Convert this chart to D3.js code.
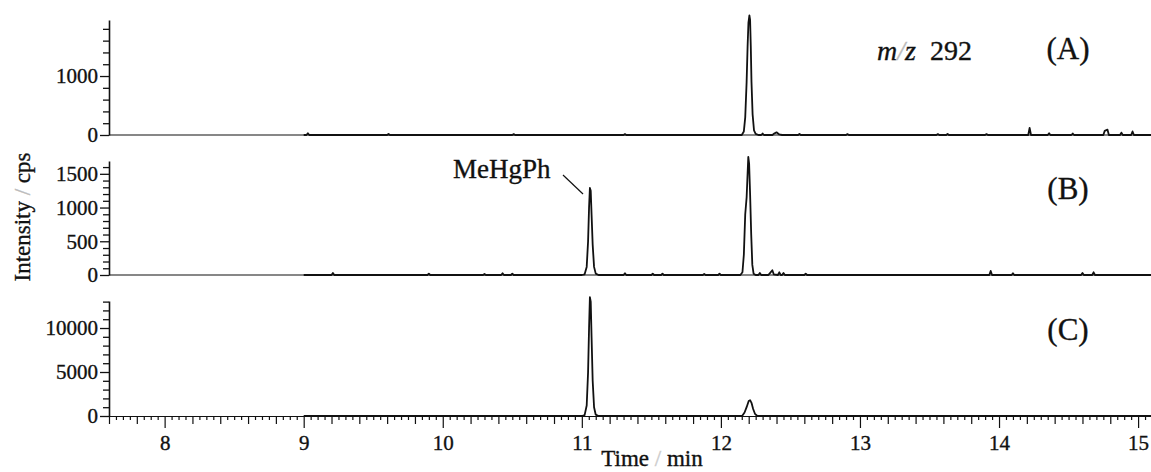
<!DOCTYPE html>
<html>
<head>
<meta charset="utf-8">
<script src="https://cdn.jsdelivr.net/npm/d3@7/dist/d3.min.js"></script>
<style>
  body { margin: 0; background: #fff; }
  svg { display: block; }
  svg text { font-family: "Liberation Serif", Times, serif !important; fill: #111; stroke: #111; stroke-width: 0.35px; }
</style>
</head>
<body>
<svg id="chart" width="1151" height="472" font-family="Liberation Serif"></svg>
<script>
// x axis (time, min)
var xDomain = [7.6, 15.1];
var xTickLabels = [8, 9, 10, 11, 12, 13, 14, 15];

// panel labels and y tick labels
var panelNames = ["(A)", "(B)", "(C)"];
var yMaxA = 1950, yMaxB = 1690, yMaxC = 13070;
var yStepA = 200, yStepB = 100, yStepC = 1000;
var yLabelsA = [0, 1000];
var yLabelsB = [0, 500, 1000, 1500];
var yLabelsC = [0, 5000, 10000];

// traces [time, intensity]
var traceA = [[9.00,0],[9.02,0],[9.03,30],[9.04,0],[9.60,0],[9.61,20],[9.62,0],[10.50,0],[10.51,15],[10.52,0],
  [11.30,0],[11.31,15],[11.32,0],[12.15,0],[12.165,60],[12.175,300],[12.185,900],[12.192,1500],[12.198,1900],
  [12.205,2030],[12.21,1950],[12.215,1500],[12.22,900],[12.228,350],[12.238,80],[12.25,20],[12.27,0],
  [12.29,0],[12.30,25],[12.31,0],[12.37,0],[12.38,20],[12.40,45],[12.42,10],[12.44,0],
  [12.555,0],[12.565,20],[12.575,0],[12.90,0],[12.91,15],[12.92,0],
  [13.55,0],[13.56,15],[13.57,0],[13.62,0],[13.63,20],[13.64,0],[13.90,0],[13.91,15],[13.92,0],
  [14.21,0],[14.22,120],[14.23,0],[14.35,0],[14.36,30],[14.37,0],[14.52,0],[14.53,25],[14.54,0],
  [14.75,0],[14.76,70],[14.78,90],[14.79,0],[14.87,0],[14.88,40],[14.89,0],
  [14.95,0],[14.96,60],[14.97,0],[15.10,0]];

var traceB = [[9.00,0],[9.20,0],[9.21,30],[9.22,0],[9.89,0],[9.90,20],[9.91,0],[10.29,0],[10.30,15],[10.31,0],
  [10.42,0],[10.43,25],[10.44,0],[10.49,0],[10.50,20],[10.51,0],
  [11.00,0],[11.02,10],[11.035,120],[11.045,500],[11.052,1000],[11.058,1290],
  [11.064,1250],[11.07,900],[11.078,450],[11.088,120],[11.10,20],[11.12,0],[11.30,0],[11.31,25],[11.32,0],
  [11.50,0],[11.51,20],[11.52,0],[11.57,0],[11.58,20],[11.59,0],[11.87,0],[11.88,15],[11.89,0],
  [11.98,0],[11.99,20],[12.00,0],
  [12.14,0],[12.155,40],[12.165,300],[12.175,900],[12.185,1150],[12.19,1400],[12.197,1750],[12.203,1650],
  [12.21,1200],[12.218,600],[12.226,150],[12.235,20],[12.25,0],[12.27,0],[12.28,30],[12.29,0],
  [12.34,0],[12.35,20],[12.37,70],[12.38,10],[12.41,0],[12.42,40],[12.43,0],[12.44,0],[12.45,30],[12.46,0],
  [12.60,0],[12.61,20],[12.62,0],[13.93,0],[13.94,60],[13.95,0],[14.09,0],[14.10,25],[14.11,0],
  [14.59,0],[14.60,30],[14.61,0],[14.67,0],[14.68,40],[14.69,0],[15.10,0]];

var traceC = [[9.00,0],[11.00,0],[11.02,100],[11.035,1200],[11.045,5000],[11.052,10000],[11.058,13500],
  [11.064,13000],[11.07,9000],[11.078,4000],[11.088,1000],[11.10,150],[11.12,0],
  [12.14,0],[12.155,50],[12.17,400],[12.185,1000],[12.20,1700],[12.21,1800],[12.22,1500],[12.232,800],
  [12.245,250],[12.26,30],[12.28,0],[15.10,0]];

var svg = d3.select('#chart');
var x = d3.scaleLinear().domain(xDomain).range([109, 1152]);

var panels = [
  {name: panelNames[0], data: traceA, max: yMaxA, step: yStepA, labels: yLabelsA, zero: 135, top: 20},
  {name: panelNames[1], data: traceB, max: yMaxB, step: yStepB, labels: yLabelsB, zero: 275, top: 161},
  {name: panelNames[2], data: traceC, max: yMaxC, step: yStepC, labels: yLabelsC, zero: 416, top: 301}
];

panels.forEach(function(p, i){
  var y = d3.scaleLinear().domain([0, p.max]).range([p.zero, p.top]);
  var g = svg.append('g');

  // y axis: minor ticks every step, labels on some
  var ticks = d3.range(0, p.max + 1, p.step);
  var yAxis = d3.axisLeft(y)
    .tickValues(ticks)
    .tickSize(6)
    .tickSizeOuter(0)
    .tickFormat(function(d){ return p.labels.indexOf(d) >= 0 ? d : ''; });
  var ya = g.append('g').attr('transform', 'translate(109,0)').call(yAxis);
  ya.attr('font-family', null).attr('font-size', null);
  ya.select('.domain').attr('stroke', '#111').attr('stroke-width', 1.6);
  ya.selectAll('.tick line').attr('stroke', '#111').attr('stroke-width', 1.3)
    .attr('x2', function(d){ return p.labels.indexOf(d) >= 0 ? -9 : -6; });
  ya.selectAll('.tick text').attr('x', -11).style('font-size', '21px');

  // baseline / x axis line
  if (i < 2) {
    g.append('line').attr('x1', 109).attr('x2', 1151).attr('y1', p.zero).attr('y2', p.zero)
      .attr('stroke', '#111').attr('stroke-width', 1.2);
  } else {
    var minor = d3.range(7.6, 15.101, 0.05).map(function(d){ return Math.round(d * 100) / 100; });
    var xa = g.append('g').attr('transform', 'translate(0,' + p.zero + ')')
      .call(d3.axisBottom(x).tickValues(minor).tickSize(4).tickSizeOuter(0)
        .tickFormat(function(d){ return xTickLabels.indexOf(d) >= 0 ? d : ''; }));
    xa.attr('font-family', null).attr('font-size', null);
    xa.select('.domain').attr('stroke', '#111').attr('stroke-width', 1.2);
    xa.selectAll('.tick line').attr('stroke', '#111').attr('stroke-width', 1.2)
      .attr('y2', function(d){
        if (xTickLabels.indexOf(d) >= 0) return 12;
        if (Math.abs(d * 5 - Math.round(d * 5)) < 1e-6) return 8;
        return 4;
      });
    xa.selectAll('.tick text').attr('y', 19).style('font-size', '21px');
  }

  // trace
  var line = d3.line()
    .x(function(d){ return x(d[0]); })
    .y(function(d){ return y(d[1]); });
  g.append('path').datum(p.data).attr('d', line)
    .attr('fill', 'none').attr('stroke', '#111').attr('stroke-width', 1.8)
    .attr('stroke-linejoin', 'round');

  // panel label
  g.append('text').attr('x', 1068).attr('y', p.zero - 76).attr('text-anchor', 'middle')
    .style('font-size', '31px').text(p.name);
});

// m/z label
var mz = svg.append('text').attr('x', 877).attr('y', 60).style('font-size', '28px');
mz.append('tspan').style('font-style', 'italic').text('m');
mz.append('tspan').style('font-style', 'italic').style('fill', '#bbb').style('stroke', '#bbb').text('/');
mz.append('tspan').style('font-style', 'italic').text('z');
mz.append('tspan').text('\u00a0\u00a0292');

// MeHgPh annotation
svg.append('text').attr('x', 453).attr('y', 178).style('font-size', '27px').text('MeHgPh');
svg.append('line').attr('x1', 563).attr('y1', 175).attr('x2', 583).attr('y2', 194)
  .attr('stroke', '#111').attr('stroke-width', 1.2);

// axis titles
var yt = svg.append('text').attr('transform', 'translate(30,217) rotate(-90)')
  .attr('text-anchor', 'middle').style('font-size', '23px');
yt.append('tspan').text('Intensity ');
yt.append('tspan').style('fill', '#bbb').style('stroke', '#bbb').text('/');
yt.append('tspan').text(' cps');

var xt = svg.append('text').attr('x', 652).attr('y', 466)
  .attr('text-anchor', 'middle').style('font-size', '23px');
xt.append('tspan').text('Time ');
xt.append('tspan').style('fill', '#ccc').style('stroke', '#ccc').text('/');
xt.append('tspan').text(' min');
</script>
</body>
</html>
